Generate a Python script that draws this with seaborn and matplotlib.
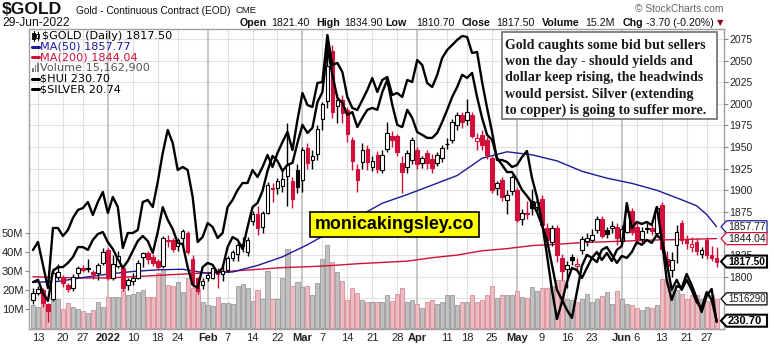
import numpy as np
import pandas as pd
import matplotlib
matplotlib.use("Agg")
import matplotlib.pyplot as plt
import seaborn as sns
from matplotlib.patches import Polygon, Rectangle
from matplotlib.lines import Line2D

# ---------------------------------------------------------------- data
holidays = ["2021-12-24", "2022-01-17", "2022-02-21", "2022-04-15", "2022-05-30", "2022-06-20"]
trade_dates = pd.bdate_range("2021-12-10", "2022-06-29")
trade_dates = trade_dates[~trade_dates.isin(pd.to_datetime(holidays))]

gold_open = [1773, 1781, 1785, 1768, 1774, 1800, 1798, 1790, 1786.5, 1804,
             1810, 1808.5, 1806, 1804, 1816, 1831, 1798.5, 1812, 1810, 1790,
             1795, 1799, 1823, 1827, 1823, 1818, 1812, 1843, 1842, 1836,
             1845, 1850, 1821, 1798, 1790, 1798, 1798.5, 1806, 1803, 1808,
             1822, 1826, 1835, 1829, 1864, 1872, 1857, 1874, 1903, 1903,
             1905, 1916, 1911, 1924, 1912, 1949, 1935, 1942, 1982, 2003,
             2061, 1997, 2004, 1993, 1958, 1925, 1933, 1948, 1927, 1941,
             1924, 1948, 1963, 1963, 1931, 1927, 1935, 1946, 1931, 1943,
             1936, 1932, 1937, 1953, 1958, 1975, 1987, 1981, 1987, 1957,
             1964, 1958, 1937, 1903, 1912, 1889, 1899, 1900, 1867, 1874,
             1887, 1881, 1890, 1856, 1840, 1856, 1822, 1809, 1823, 1812,
             1831, 1841, 1843, 1854, 1867, 1854, 1856, 1858, 1841, 1852,
             1876, 1858, 1844, 1855, 1856, 1850, 1883, 1820, 1808, 1837,
             1862, 1842, 1834, 1840, 1826, 1842, 1825, 1821.4]
gold_high = [1787, 1789, 1787, 1770, 1810, 1815, 1802, 1793, 1803, 1812,
             1813, 1821, 1808, 1816, 1833, 1833, 1825, 1830, 1813, 1799,
             1804, 1819, 1829, 1830, 1826, 1820, 1847, 1848, 1845, 1845,
             1855, 1853, 1825, 1800, 1798, 1805, 1812, 1810, 1812, 1824,
             1831, 1840, 1846, 1846, 1876, 1882, 1876, 1910, 1908, 1914,
             1925, 1978, 1915, 1930, 1950, 1955, 1946, 1975, 2002, 2079,
             2068, 2011, 2010, 1996, 1962, 1930, 1955, 1952, 1940, 1945,
             1946, 1979, 1968, 1965, 1940, 1946, 1962, 1950, 1940, 1946,
             1942, 1944, 1952, 1960, 1982, 1990, 1990, 2006, 1990, 1966,
             1970, 1962, 1940, 1911, 1915, 1900, 1918, 1903, 1878, 1887,
             1902, 1890, 1895, 1862, 1860, 1860, 1826, 1818, 1826, 1822,
             1847, 1850, 1855, 1870, 1870, 1858, 1864, 1862, 1860, 1878,
             1879, 1862, 1858, 1862, 1860, 1882, 1886, 1830, 1828, 1860,
             1866, 1848, 1846, 1845, 1834, 1846, 1836, 1834.9]
gold_low = [1768, 1779, 1765, 1748, 1772, 1796, 1788, 1782, 1784, 1799,
            1805, 1806, 1797, 1796, 1814, 1796, 1796, 1810, 1784, 1785,
            1790, 1797, 1811, 1815, 1812, 1808, 1810, 1834, 1829, 1830,
            1835, 1826, 1788, 1780, 1786, 1795, 1797, 1787, 1795, 1806,
            1818, 1818, 1829, 1824, 1860, 1848, 1850, 1872, 1886, 1896,
            1898, 1882, 1880, 1897, 1898, 1925, 1925, 1935, 1970, 1995,
            1984, 1978, 1978, 1956, 1923, 1898, 1925, 1923, 1922, 1920,
            1920, 1944, 1950, 1940, 1897, 1920, 1930, 1925, 1926, 1925,
            1920, 1928, 1933, 1948, 1955, 1970, 1972, 1975, 1960, 1946,
            1946, 1936, 1897, 1895, 1888, 1873, 1894, 1863, 1860, 1867,
            1871, 1875, 1856, 1838, 1835, 1817, 1796, 1787, 1813, 1808,
            1826, 1835, 1840, 1851, 1845, 1845, 1851, 1837, 1838, 1850,
            1848, 1838, 1840, 1850, 1848, 1846, 1828, 1808, 1800, 1816,
            1838, 1832, 1828, 1825, 1822, 1820, 1818, 1810.7]
gold_close = [1781.5, 1785.5, 1769, 1760, 1804.5, 1805, 1792.5, 1785.5, 1800, 1810.5,
              1808, 1809.5, 1803, 1813.5, 1829, 1799, 1815, 1824, 1787, 1796,
              1799, 1816, 1827.5, 1821, 1815.5, 1811.6, 1844.5, 1841, 1832, 1842,
              1853, 1829, 1792, 1783, 1795.5, 1802, 1810, 1803, 1807, 1822,
              1828.5, 1837, 1838, 1843, 1872, 1856, 1874, 1906, 1901, 1911,
              1913, 1929, 1890, 1904, 1947, 1931, 1940, 1971, 2000, 2044,
              1991, 2004, 1989, 1965, 1934, 1912, 1947, 1933, 1934, 1925,
              1941, 1966, 1958, 1944, 1921, 1943, 1958, 1930, 1937, 1931,
              1926, 1941, 1949, 1954, 1979, 1987, 1979, 1990, 1963, 1960,
              1952, 1941, 1900, 1908, 1892, 1894, 1915, 1866, 1874, 1872,
              1879, 1886, 1860, 1843, 1856, 1825, 1807, 1814, 1819, 1815,
              1844, 1845, 1848, 1867, 1847, 1849, 1859, 1845, 1855, 1875,
              1852, 1844, 1853, 1856, 1853, 1879, 1832, 1812, 1819, 1852,
              1842, 1839, 1838, 1830, 1831, 1825, 1821.2, 1817.5]
volume_m = [12, 11, 13, 12, 15, 15, 10, 13, 11, 10,
            9, 7.6, 9.3, 13.5, 11, 16, 16, 16.3, 19.8, 17,
            17.5, 19, 20, 16, 16, 29, 31, 22.5, 22, 24,
            19, 26, 21, 20.5, 13.3, 12, 11.4, 16.3, 13, 13,
            12.5, 22, 23, 21, 14, 20, 15, 30, 15, 15,
            26, 41.4, 22, 24, 21.6, 22, 17.2, 23.3, 36, 43.5,
            34.7, 29.5, 24.7, 14.6, 20.7, 18.4, 14.6, 13.3, 13.3, 13.5,
            13.5, 17.2, 14, 17.8, 20.7, 13.3, 14.6, 12.5, 10.2, 13.3,
            14.6, 12.5, 13.3, 17.2, 17, 12, 13.3, 13.3, 17.2, 13.3,
            14.6, 17, 22, 15.8, 17, 17, 17, 19.2, 16.3, 15.6,
            21.3, 19.2, 20.7, 20.7, 22, 25, 25, 15, 14.5, 13.5,
            15, 17.5, 13.5, 15, 16.5, 18.6, 12.5, 19.5, 15, 12.3,
            12, 10.4, 9.3, 11, 10.4, 12, 25.5, 25.5, 19.5, 20,
            17.5, 15, 17, 17, 15, 14, 17, 15.1629]

ma_dates = ["2021-12-10", "2021-12-17", "2021-12-27", "2022-01-03", "2022-01-10", "2022-01-18",
            "2022-01-25", "2022-02-01", "2022-02-08", "2022-02-15", "2022-02-23", "2022-03-02",
            "2022-03-09", "2022-03-16", "2022-03-23", "2022-03-30", "2022-04-06", "2022-04-13",
            "2022-04-21", "2022-04-28", "2022-05-05", "2022-05-12", "2022-05-19", "2022-05-26",
            "2022-06-03", "2022-06-10", "2022-06-17", "2022-06-23", "2022-06-27", "2022-06-29"]
ma50 = [1793.5, 1794.5, 1799, 1803, 1806, 1808, 1808.6, 1804, 1805.5, 1813,
        1823, 1837, 1853, 1869, 1885, 1895, 1906, 1917, 1937, 1944.5,
        1941, 1934, 1922, 1914, 1908, 1900, 1889, 1882, 1872, 1857.77]
ma200 = [1800, 1799, 1798.5, 1798.5, 1800, 1801.5, 1803, 1804.5, 1806.5, 1808.5,
         1810.5, 1811.5, 1813, 1815, 1816.5, 1818, 1822, 1825, 1830, 1832.5,
         1836, 1837.5, 1839.5, 1840.5, 1841.5, 1842.5, 1843, 1843.5, 1843.8, 1844.04]

hui = [244.6, 245.4, 240.7, 237.8, 248.6, 250.0, 250.0, 251.5, 253.6, 257.2,
       257.2, 256.2, 259.8, 261.9, 262.6, 259.0, 256.5, 252.9, 249.7, 252.2,
       255.8, 259.4, 261.2, 259.4, 255.1, 262.6, 271.6, 267.0, 263.7, 258.7,
       258.3, 250.0, 243.6, 242.5, 250.0, 251.5, 250.8, 247.9, 249.7, 257.2,
       260.8, 259.8, 256.5, 264.4, 271.6, 273.1, 277.4, 284.6, 290.0, 288.2,
       284.6, 286.8, 287.5, 294.7, 301.2, 298.3, 300.1, 309.4, 313.0, 329.2,
       319.2, 310.9, 309.1, 304.8, 305.8, 300.4, 303.7, 306.6, 307.3, 306.6,
       313.0, 317.4, 308.4, 301.2, 300.4, 306.6, 303.7, 298.6, 297.6, 296.5,
       296.5, 298.3, 302.2, 306.6, 311.2, 314.8, 319.2, 318.1, 319.9, 311.2,
       303.7, 297.6, 295.8, 289.3, 286.8, 284.2, 284.2, 281.4, 277.8, 275.6,
       273.1, 269.8, 265.2, 259.8, 250.8, 241.8, 238.2, 234.6, 231.7, 241.0,
       250.4, 254.4, 253.3, 251.8, 256.2, 257.2, 254.4, 251.5, 254.0, 253.3,
       255.4, 259.0, 258.0, 259.8, 258.7, 261.6, 259.8, 251.8, 241.8, 245.4,
       241.8, 245.4, 241.8, 237.4, 235.3, 241.0, 238.2, 230.7]
silver = [22.18, 22.34, 21.88, 21.42, 22.62, 22.62, 22.46, 22.58, 22.82, 22.98,
          23.02, 23.14, 22.88, 23.14, 23.34, 22.92, 23.24, 23.04, 22.22, 22.52,
          22.52, 22.58, 23.14, 23.18, 23.04, 23.54, 24.12, 24.58, 24.32, 23.78,
          23.84, 23.78, 23.24, 22.34, 22.44, 22.72, 22.64, 22.42, 22.52, 23.04,
          23.18, 23.38, 23.52, 23.52, 23.78, 23.64, 23.84, 24.08, 23.84, 24.12,
          24.34, 24.54, 24.18, 24.78, 25.32, 25.08, 25.04, 25.52, 25.54, 26.48,
          25.88, 25.92, 25.74, 25.24, 25.02, 24.98, 25.18, 25.38, 25.62, 25.34,
          25.58, 25.64, 25.28, 25.32, 25.24, 25.58, 25.54, 25.98, 25.88, 25.52,
          25.44, 25.68, 26.02, 26.18, 26.28, 26.38, 26.46, 26.44, 26.12, 26.14,
          25.54, 25.02, 24.54, 23.98, 23.98, 23.94, 23.84, 23.88, 24.04, 24.16,
          23.62, 23.24, 22.74, 22.08, 21.38, 20.80, 21.14, 21.54, 21.82, 21.78,
          21.62, 21.82, 22.02, 22.14, 21.98, 22.12, 21.96, 22.18, 22.26, 23.12,
          22.62, 22.74, 22.70, 22.74, 22.68, 23.04, 22.42, 21.58, 21.18, 21.46,
          21.42, 21.70, 21.48, 21.22, 20.94, 21.26, 21.40, 20.74]

tick_dates = ["2021-12-13", "2021-12-20", "2021-12-27", "2022-01-03", "2022-01-10", "2022-01-18",
              "2022-01-24", "2022-02-01", "2022-02-07", "2022-02-14", "2022-02-22", "2022-03-01",
              "2022-03-07", "2022-03-14", "2022-03-21", "2022-03-28", "2022-04-01", "2022-04-11",
              "2022-04-18", "2022-04-25", "2022-05-02", "2022-05-09", "2022-05-16", "2022-05-23",
              "2022-06-01", "2022-06-06", "2022-06-13", "2022-06-21", "2022-06-27"]
tick_labels = ["13", "20", "27", "2022", "10", "18", "24", "Feb", "7", "14", "22", "Mar",
               "7", "14", "21", "28", "Apr", "11", "18", "25", "May", "9", "16", "23",
               "Jun", "6", "13", "21", "27"]
month_labels = ["2022", "Feb", "Mar", "Apr", "May", "Jun"]
price_ticks = [1800, 1825, 1875, 1900, 1925, 1950, 1975, 2000, 2025, 2050, 2075]
volume_ticks = [10, 20, 30, 40, 50]

note_lines = ["Gold caughts some bid but sellers",
              "won the day - should yields and",
              "dollar keep rising, the headwinds",
              "would persist. Silver (extending",
              "to copper) is going to suffer more."]

# ---------------------------------------------------------------- frame
df = pd.DataFrame({"date": trade_dates, "open": gold_open, "high": gold_high,
                   "low": gold_low, "close": gold_close, "vol": volume_m,
                   "hui": hui, "silver": silver})
df["x"] = np.arange(len(df))
ma_df = pd.DataFrame({"x": trade_dates.get_indexer(pd.to_datetime(ma_dates)),
                      "ma50": ma50, "ma200": ma200})
tick_x = trade_dates.get_indexer(pd.to_datetime(tick_dates))

RED = "#d0103a"
BLUE = "#1a1a9a"
W, H = 774, 345


def fx(x):
    return x / W


def fy(y):
    return 1 - y / H


sns.set_theme(style="white")
plt.rcParams["font.family"] = ["Liberation Sans", "DejaVu Sans"]

fig = plt.figure(figsize=(W / 100, H / 100), dpi=100)
fig.patch.set_facecolor("white")
renderer = fig.canvas.get_renderer()

PL, PR, PT, PB = 29, 724, 29.3, 329
rect = [fx(PL), fy(PB), (PR - PL) / W, (PB - PT) / H]
XLIM = (-0.8, 138.48)
PRICE_LIM = (1739.5, 2086.2)

ax_bg = fig.add_axes(rect)
ax_vol = fig.add_axes(rect, facecolor="none")
ax_p = fig.add_axes(rect, facecolor="none")
ax_s = fig.add_axes(rect, facecolor="none")
ax_h = fig.add_axes(rect, facecolor="none")

for a in (ax_bg, ax_vol, ax_p, ax_s, ax_h):
    a.set_xlim(*XLIM)
    for sp in a.spines.values():
        sp.set_visible(False)
    a.set_xticks([])
    a.set_yticks([])
    a.set_xlabel("")
    a.set_ylabel("")

# background grid
ax_bg.set_facecolor("white")
ax_bg.set_ylim(*PRICE_LIM)
for sp in ax_bg.spines.values():
    sp.set_visible(True)
    sp.set_color("#a0a0a0")
    sp.set_linewidth(1.0)
for p in range(1750, 2100, 25):
    ax_bg.axhline(p, color="#e2e2e2", lw=0.8, zorder=0)
for xv, lab in zip(tick_x, tick_labels):
    if lab in month_labels:
        ax_bg.axvline(xv, color="#b8b8b8", lw=1.1, zorder=0)
    else:
        ax_bg.axvline(xv, color="#e0e0e0", lw=0.8, zorder=0)
ax_bg.set_xticks(tick_x)
ax_bg.set_xticklabels(tick_labels, fontsize=8, color="#222222")
for t in ax_bg.get_xticklabels():
    if t.get_text() in month_labels:
        t.set_fontweight("bold")
ax_bg.tick_params(axis="x", length=0, pad=3)

# volume
prev_close = np.r_[df["close"].values[0], df["close"].values[:-1]]
down = df["close"].values < prev_close
vol_face = np.where(down, "#ebbcc2", "#c0c0c0")
vol_edge = np.where(down, "#d98a95", "#9a9a9a")
ax_vol.bar(df["x"], df["vol"], width=0.82, color=vol_face, edgecolor=vol_edge, linewidth=0.6)
ax_vol.set_ylim(-0.684, 157.05)
ax_vol.set_yticks(volume_ticks)
ax_vol.set_yticklabels([f"{v}M" for v in volume_ticks], fontsize=8, color="#222222")
ax_vol.tick_params(axis="y", left=True, length=3, width=0.8, color="#888888", pad=1)

# moving averages and candles
ax_p.set_ylim(*PRICE_LIM)
sns.lineplot(data=ma_df, x="x", y="ma200", ax=ax_p, color=RED, lw=1.0, errorbar=None, legend=False, zorder=2)
sns.lineplot(data=ma_df, x="x", y="ma50", ax=ax_p, color=BLUE, lw=1.0, errorbar=None, legend=False, zorder=2)

o = df["open"].values
c = df["close"].values
col = np.where(down, RED, "black")
face = np.where(c < o, col, "white")
ax_p.vlines(df["x"], df["low"], df["high"], colors=col, lw=1.0, zorder=3)
ax_p.bar(df["x"], np.maximum(np.abs(c - o), 0.9), bottom=np.minimum(o, c), width=0.72,
         color=face, edgecolor=col, linewidth=0.8, zorder=4)
ax_p.yaxis.tick_right()
ax_p.set_yticks(price_ticks)
ax_p.set_yticklabels([str(v) for v in price_ticks], fontsize=7.5, color="#222222")
ax_p.tick_params(axis="y", right=True, length=3, width=0.8, color="#888888", pad=1)
ax_p.set_xlabel("")
ax_p.set_ylabel("")

# overlays
ax_s.set_ylim(20.60, 26.594)
ax_h.set_ylim(227.71, 335.6)
sns.lineplot(data=df, x="x", y="silver", ax=ax_s, color="black", lw=1.7, errorbar=None, legend=False)
sns.lineplot(data=df, x="x", y="hui", ax=ax_h, color="black", lw=1.7, errorbar=None, legend=False)
for a in (ax_s, ax_h, ax_vol):
    a.set_xlabel("")
    a.set_ylabel("")
    a.set_xticks([])
ax_s.set_yticks([])
ax_h.set_yticks([])


# ---------------------------------------------------------------- text helpers
def put(x, y, s, size, width=None, **kw):
    kw.setdefault("va", "center")
    t = fig.text(fx(x), fy(y), s, fontsize=size, **kw)
    if width:
        w = t.get_window_extent(renderer=renderer).width
        t.set_fontsize(size * width / w)
    return t


def tag(ax, val, text, color, bold=False):
    yp = H - ax.transData.transform((0, val))[1]
    h = 6
    pts = [(721, yp), (726.5, yp - h), (767, yp - h), (767, yp + h), (726.5, yp + h)]
    fig.add_artist(Polygon([(fx(a), fy(b)) for a, b in pts], closed=True,
                           transform=fig.transFigure, facecolor="white",
                           edgecolor=color, lw=1.5 if bold else 0.9, zorder=5))
    t = fig.text(fx(728), fy(yp + 0.5), text, fontsize=8,
                 fontweight="bold" if bold else "normal", va="center", ha="left",
                 color="black" if bold else "#1a1a1a", zorder=6)
    w = t.get_window_extent(renderer=renderer).width
    t.set_fontsize(8 * min(1.0, 37.5 / w))


# header
put(2, 9.2, "$GOLD", 12, width=60, fontweight="bold", color="#111111")
put(76, 10.5, "Gold - Continuous Contract (EOD)", 8, width=155, color="#111111")
put(236, 10.5, "CME", 7, width=21, color="#111111")
put(2, 23.5, "29-Jun-2022", 8, width=68, color="#111111")
put(635, 9, "\u00a9 StockCharts.com", 7.5, width=88, color="#666666")

t = put(271.7, 22.5, f"{gold_open[-1]:.2f}", 8, width=38.3, color="#111111")
hs = t.get_fontsize()
chg = gold_close[-1] - gold_close[-2]
pieces = [("Open", 240, f"{gold_open[-1]:.2f}", 271.7),
          ("High", 316.7, f"{gold_high[-1]:.2f}", 344),
          ("Low", 385, f"{gold_low[-1]:.2f}", 416.7),
          ("Close", 461.7, f"{gold_close[-1]:.2f}", 496.7),
          ("Volume", 541.7, f"{volume_m[-1]:.1f}M", 585),
          ("Chg", 623, f"{chg:.2f} ({chg / gold_close[-2] * 100:.2f}%)", 646)]
for lab, lx, val, vx in pieces:
    put(lx, 22.5, lab, hs, fontweight="bold", color="#111111")
    if lab != "Open":
        put(vx, 22.5, val, hs, color="#111111")
fig.text(fx(716.5), fy(22.5), "\u25BC", fontsize=6, color="#8b0a1a", va="center",
         family="DejaVu Sans")

# legend
leg = [(f"$GOLD (Daily) {gold_close[-1]:.2f}", "black", "candle"),
       (f"MA(50) {ma50[-1]:.2f}", BLUE, "line"),
       (f"MA(200) {ma200[-1]:.2f}", RED, "line"),
       (f"Volume {int(round(volume_m[-1] * 1e6)):,}", "#555555", "bars"),
       (f"$HUI {hui[-1]:.2f}", "black", "line"),
       (f"$SILVER {silver[-1]:.2f}", "black", "line")]
ly = [36, 46.8, 57.4, 68, 78.6, 89]
t0 = put(41.5, ly[0], leg[0][0], 7.5, width=130, family="DejaVu Sans", color="black")
ls = t0.get_fontsize()
for (txt, cl, kind), yy in zip(leg, ly):
    if kind != "candle":
        put(40.5, yy, txt, ls, family="DejaVu Sans", color=cl)
    if kind == "line":
        fig.add_artist(Line2D([fx(32), fx(39)], [fy(yy), fy(yy)], color=cl, lw=2.2,
                              transform=fig.transFigure))
    elif kind == "bars":
        for bx, bh in zip([32, 34.5, 37], [4, 6.5, 8.5]):
            fig.add_artist(Rectangle((fx(bx), fy(yy + 4)), 1.8 / W, bh / H, facecolor="#777777",
                                     edgecolor="none", transform=fig.transFigure))
    elif kind == "candle":
        fig.add_artist(Line2D([fx(33.5), fx(33.5)], [fy(yy - 5), fy(yy + 5)], color="black", lw=0.8,
                              transform=fig.transFigure))
        fig.add_artist(Rectangle((fx(32.3), fy(yy + 3)), 2.4 / W, 6 / H, facecolor="black",
                                 edgecolor="black", lw=0.6, transform=fig.transFigure))
        fig.add_artist(Line2D([fx(37.5), fx(37.5)], [fy(yy - 4), fy(yy + 4)], color="black", lw=0.8,
                              transform=fig.transFigure))
        fig.add_artist(Rectangle((fx(36.3), fy(yy + 2)), 2.4 / W, 4 / H, facecolor="white",
                                 edgecolor="black", lw=0.6, transform=fig.transFigure))

# note box
fig.add_artist(Rectangle((fx(502), fy(119)), (717 - 502) / W, (119 - 32) / H, facecolor="white",
                         edgecolor="#7a7a7a", lw=1.3, transform=fig.transFigure, zorder=4))
tn = put(505, 45, note_lines[0], 9, width=199, family="Liberation Serif", fontweight="bold",
         color="#1a1a1a", zorder=5)
ns = tn.get_fontsize()
for k, line in enumerate(note_lines[1:], start=1):
    put(505, 45 + 16.4 * k, line, ns, family="Liberation Serif", fontweight="bold",
        color="#1a1a1a", zorder=5)

# yellow label
fig.add_artist(Rectangle((fx(310), fy(237)), (479 - 310) / W, 25 / H, facecolor="#ffff00",
                         edgecolor="black", lw=1.2, transform=fig.transFigure, zorder=4))
put(394.5, 224.5, "monicakingsley.co", 12, width=157, fontweight="bold", ha="center",
    color="black", zorder=5)

# value tags
tag(ax_p, ma50[-1], f"{ma50[-1]:.2f}", BLUE)
tag(ax_p, ma200[-1], f"{ma200[-1]:.2f}", RED)
tag(ax_vol, volume_m[-1], f"{int(round(volume_m[-1] * 1e5))}", "black")
tag(ax_p, gold_close[-1], f"{gold_close[-1]:.2f}", "black", bold=True)
tag(ax_h, hui[-1], f"{hui[-1]:.2f}", "black", bold=True)

fig.savefig("out.png", dpi=100, facecolor="white")
